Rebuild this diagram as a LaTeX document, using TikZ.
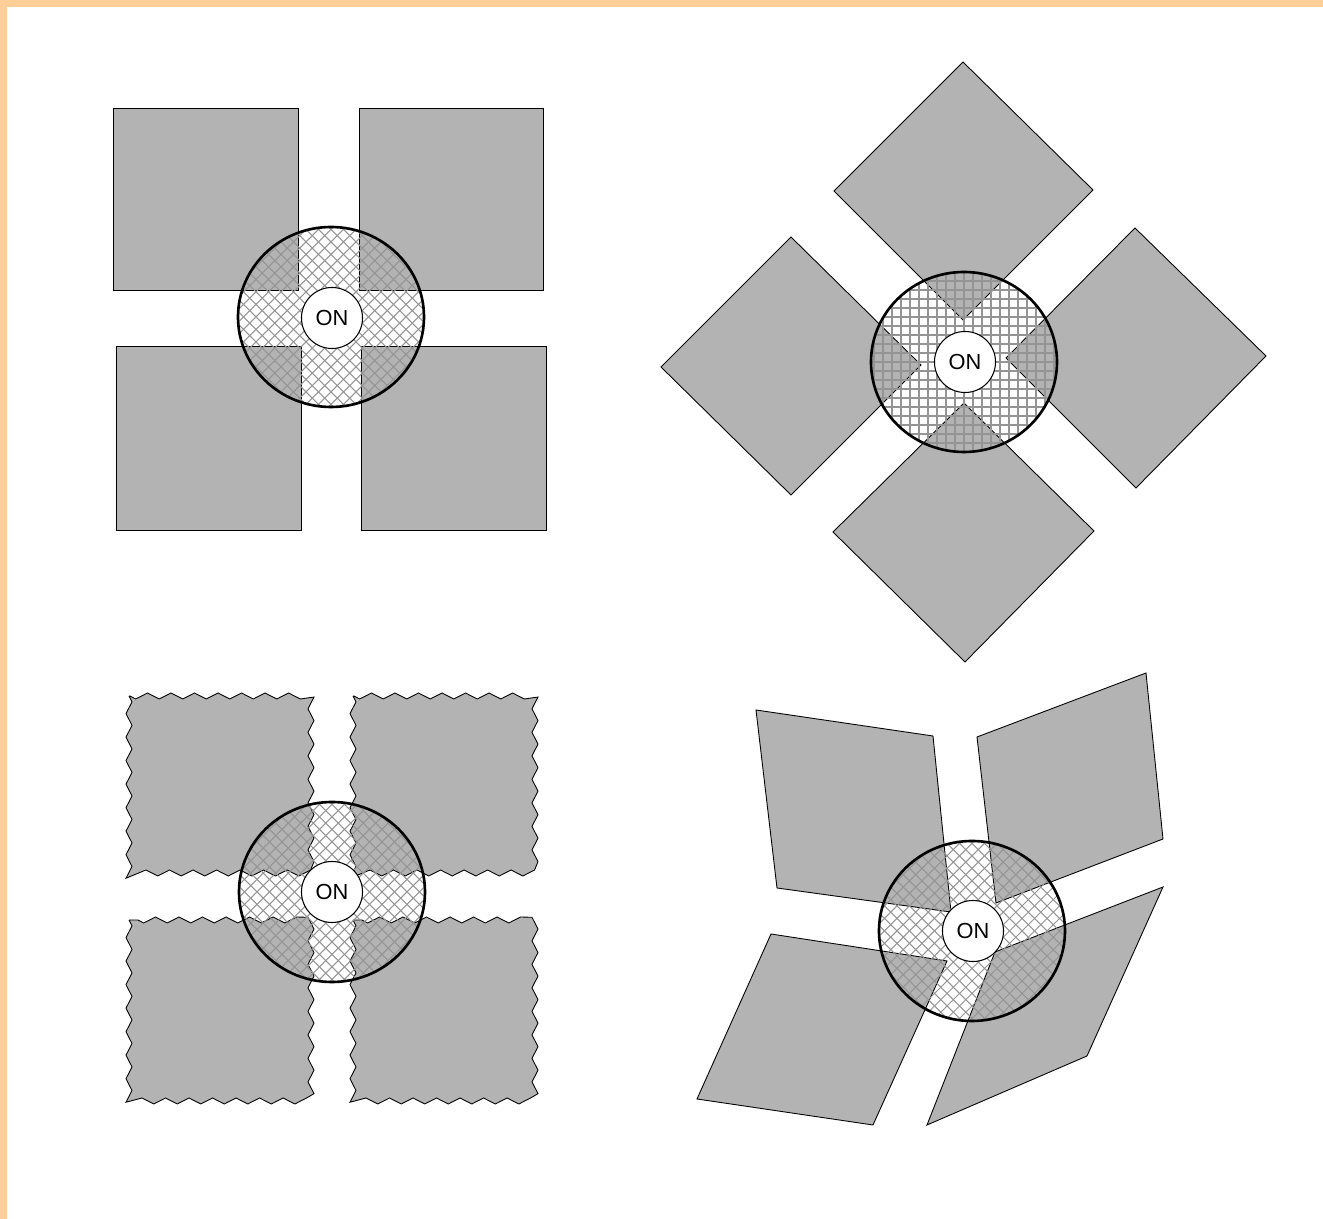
\documentclass[tikz,border=0pt]{standalone}
\usepackage{fontspec}
\setmainfont{Liberation Sans}
\usetikzlibrary{decorations.pathmorphing}
\definecolor{framecol}{RGB}{255,207,153}
\definecolor{blockgray}{RGB}{179,179,179}
\begin{document}
\begin{tikzpicture}[x=0.01cm, y=-0.01cm,
	block/.style={fill=blockgray, draw=black, line width=0.25pt},
	wavy/.style={block, decorate, decoration={zigzag, segment length=0.235cm, amplitude=0.03cm}},
	ring/.style={line width=0.75pt},
	hatchline/.style={draw=black!42, line width=0.3pt},
	onbtn/.style={circle, draw, fill=white, line width=0.3pt, minimum size=0.61cm, inner sep=0pt, font=\fontsize{6.2}{7}\selectfont}]
	\useasboundingbox (0,0) rectangle (1323,1219);
	\fill[framecol] (0,0) rectangle (7,1219);
	\fill[framecol] (0,0) rectangle (1323,7);

	\coordinate (c1) at (331,317);
	\draw[block] (113,108) rectangle (298,290);
	\draw[block] (359,108) rectangle (543,290);
	\draw[block] (116,346) rectangle (301,530);
	\draw[block] (361,346) rectangle (546,530);
	\begin{scope}[shift={(c1)}]
		\clip (0,0) circle [x radius=93, y radius=90];
		\foreach \k in {-200,-187.5,...,200} {
			\draw[hatchline] (\k-100,-100) -- (\k+100,100);
			\draw[hatchline] (\k-100,100) -- (\k+100,-100);
		}
	\end{scope}
	\draw[ring] (c1) circle [x radius=93, y radius=90];
	\node[onbtn] (on1) at (332,318) {ON};

	\coordinate (c2) at (964,362);
	\draw[block] (963,62) -- (1093,190) -- (963,320) -- (834,191) -- cycle;
	\draw[block] (791,237) -- (921,365) -- (791,495) -- (661,367) -- cycle;
	\draw[block] (1135,228) -- (1266,356) -- (1136,488) -- (1006,358) -- cycle;
	\draw[block] (964,403) -- (1094,531) -- (965,662) -- (833,532) -- cycle;
	\begin{scope}[shift={(c2)}]
		\clip (0,0) circle [x radius=93, y radius=90];
		\foreach \k in {-99,-90,...,99} {
			\draw[hatchline] (\k,-100) -- (\k,100);
			\draw[hatchline] (-100,\k) -- (100,\k);
		}
	\end{scope}
	\draw[ring] (c2) circle [x radius=93, y radius=90];
	\node[onbtn] (on2) at (965,362) {ON};

	\coordinate (c3) at (332,892);
	\draw[wavy] (129,696) rectangle (311,873);
	\draw[wavy] (353,696) rectangle (535,873);
	\draw[wavy] (129,920) rectangle (311,1101);
	\draw[wavy] (353,920) rectangle (535,1101);
	\begin{scope}[shift={(c3)}]
		\clip (0,0) circle [x radius=93, y radius=90];
		\foreach \k in {-200,-187.5,...,200} {
			\draw[hatchline] (\k-100,-100) -- (\k+100,100);
			\draw[hatchline] (\k-100,100) -- (\k+100,-100);
		}
	\end{scope}
	\draw[ring] (c3) circle [x radius=93, y radius=90];
	\node[onbtn] (on3) at (332,892) {ON};

	\coordinate (c4) at (972,931);
	\draw[block] (756,710) -- (933,736) -- (951,912) -- (777,888) -- cycle;
	\draw[block] (977,737) -- (1146,673) -- (1163,839) -- (996,903) -- cycle;
	\draw[block] (771,934) -- (947,961) -- (873,1125) -- (697,1099) -- cycle;
	\draw[block] (995,952) -- (1163,887) -- (1087,1056) -- (927,1125) -- cycle;
	\begin{scope}[shift={(c4)}]
		\clip (0,0) circle [x radius=93, y radius=90];
		\foreach \k in {-200,-187.5,...,200} {
			\draw[hatchline] (\k-100,-100) -- (\k+100,100);
			\draw[hatchline] (\k-100,100) -- (\k+100,-100);
		}
	\end{scope}
	\draw[ring] (c4) circle [x radius=93, y radius=90];
	\node[onbtn] (on4) at (973,931) {ON};
\end{tikzpicture}
\end{document}
